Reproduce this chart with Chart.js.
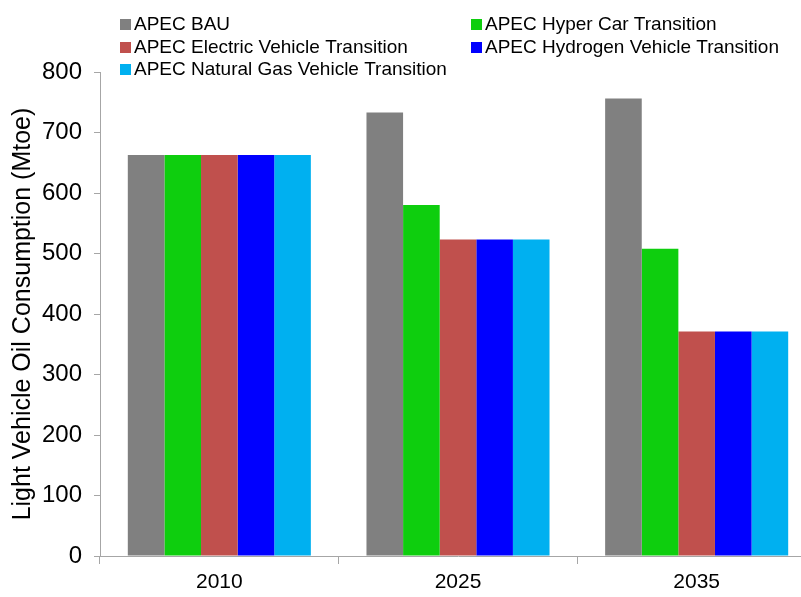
<!DOCTYPE html>
<html>
<head>
<meta charset="utf-8">
<script src="https://cdn.jsdelivr.net/npm/chart.js@4/dist/chart.umd.min.js"></script>
<style>
html,body{margin:0;padding:0;background:#fff;overflow:hidden;}
#wrap{position:absolute;left:0;top:0;width:816px;height:597px;}
</style>
</head>
<body>
<div id="wrap"><canvas id="c" width="816" height="597"></canvas></div>
<script>
const categories = ["2010", "2025", "2035"];
const seriesNames = [
  "APEC BAU",
  "APEC Hyper Car Transition",
  "APEC Electric Vehicle Transition",
  "APEC Hydrogen Vehicle Transition",
  "APEC Natural Gas Vehicle Transition"
];
const bau = [663, 733, 756];
const hyperCar = [663, 580, 508];
const electric = [663, 523, 371];
const hydrogen = [663, 523, 371];
const naturalGas = [663, 523, 371];
const yTicks = [0, 100, 200, 300, 400, 500, 600, 700, 800];
const colors = ["#808080", "#0ECE0E", "#C0504D", "#0000FF", "#00B0F0"];
const seriesValues = [bau, hyperCar, electric, hydrogen, naturalGas];

const FONT = "'Liberation Sans', Arial, sans-serif";

const legendPlugin = {
  id: 'twoColLegend',
  afterDraw(chart) {
    const ctx = chart.ctx;
    const colX = [120, 471];
    const rowBase = [30, 53, 75];
    ctx.save();
    ctx.font = "19px " + FONT;
    ctx.textBaseline = 'alphabetic';
    chart.data.datasets.forEach((ds, i) => {
      const x = colX[i % 2];
      const y = rowBase[Math.floor(i / 2)];
      ctx.fillStyle = ds.backgroundColor;
      ctx.fillRect(x, y - 11, 11, 11);
      ctx.fillStyle = '#000';
      ctx.fillText(ds.label, x + 14, y);
    });
    ctx.restore();
  }
};

new Chart(document.getElementById('c'), {
  type: 'bar',
  data: {
    labels: categories,
    datasets: seriesNames.map((n, i) => ({
      label: n,
      data: seriesValues[i],
      backgroundColor: colors[i],
      borderWidth: 0,
      categoryPercentage: 0.767,
      barPercentage: 1.0
    }))
  },
  options: {
    responsive: false,
    animation: false,
    devicePixelRatio: 1,
    layout: { padding: { top: 72, right: 0, bottom: 2, left: 8 } },
    plugins: {
      legend: { display: false },
      tooltip: { enabled: false }
    },
    scales: {
      x: {
        offset: true,
        afterFit(axis) { axis.height = 39; },
        grid: { display: true, drawOnChartArea: false, offset: true, color: '#A6A6A6', tickLength: 8, lineWidth: 1 },
        border: { color: '#A6A6A6', width: 1 },
        ticks: { color: '#000', font: { family: FONT, size: 21 }, padding: 6 }
      },
      y: {
        min: 0, max: 800,
        afterFit(axis) { axis.width = 92; },
        afterBuildTicks(axis) { axis.ticks = yTicks.map(v => ({ value: v })); },
        grid: { display: true, drawOnChartArea: false, color: '#A6A6A6', tickLength: 6, lineWidth: 1 },
        border: { color: '#A6A6A6', width: 1 },
        ticks: { color: '#000', font: { family: FONT, size: 24 }, padding: 12 },
        title: { display: true, text: 'Light Vehicle Oil Consumption (Mtoe)', color: '#000', font: { family: FONT, size: 25 }, padding: { top: 0, bottom: 4 } }
      }
    }
  },
  plugins: [legendPlugin]
});
</script>
</body>
</html>
